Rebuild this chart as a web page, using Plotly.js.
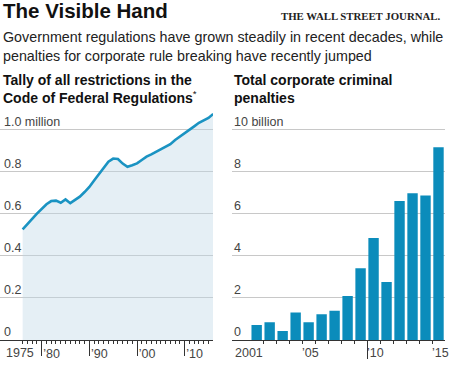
<!DOCTYPE html>
<html>
<head>
<meta charset="utf-8">
<script src="https://cdn.plot.ly/plotly-3.0.1.min.js"></script>
<style>html,body{margin:0;padding:0;background:#fff;}#chart{width:459px;height:368px;}</style>
</head>
<body>
<div id="chart"></div>
<script>
// ---- Data ----
const regYears = [1976,1977,1978,1979,1980,1981,1982,1983,1984,1985,1986,1987,1988,1989,1990,1991,1992,1993,1994,1995,1996,1997,1998,1999,2000,2001,2002,2003,2004,2005,2006,2007,2008,2009,2010,2011,2012,2013,2014,2015,2016];
const regValues = [0.526,0.553,0.575,0.600,0.625,0.645,0.660,0.662,0.652,0.668,0.650,0.665,0.681,0.703,0.727,0.758,0.789,0.820,0.847,0.862,0.860,0.838,0.823,0.830,0.839,0.855,0.871,0.882,0.895,0.906,0.918,0.930,0.950,0.966,0.982,0.995,1.015,1.032,1.042,1.055,1.074];
const regTickVals = [0,0.2,0.4,0.6,0.8,1.0];
const regTickText = ["0","0.2","0.4","0.6","0.8","1.0 million"];
const regDecades = [1980,1990,2000,2010];
const regDecadeText = ["\u201980","\u201990","\u201900","\u201910"];
const regFirstLabel = [1975];
const regFirstText = ["1975"];

const penYears = [2001,2002,2003,2004,2005,2006,2007,2008,2009,2010,2011,2012,2013,2014,2015];
const penValues = [0.71,0.84,0.43,1.31,0.84,1.22,1.39,2.09,3.41,4.85,2.76,6.60,6.97,6.87,9.16];
const penTickVals = [0,2,4,6,8,10];
const penTickText = ["0","2","4","6","8","10 billion"];
const penLabelYears = [2005,2010,2015];
const penLabelText = ["\u201905","\u201910","\u201915"];
const penFirstLabel = [2001];
const penFirstText = ["2001"];

// ---- derived tick positions ----
const regMinor = regYears.slice();
const penBounds = penYears.slice(0,-1).map(y => y + 0.5);
const penDecadeBound = [2009.5];

const W = 459, H = 368;
const px = v => v / W;
const py = v => 1 - v / H;

const FAM = "Liberation Sans, Arial, sans-serif";
const LABEL = {family: FAM, size: 12.5, color: "#444"};
const yDomain = [py(340), py(108.45)];
const xRangeL = [1971.25, 2015.95];
const xRangeR = [1999.1, 2015.5];

const traces = [
  {type: "scatter", mode: "lines", x: regYears, y: regValues, xaxis: "x", yaxis: "y",
   line: {color: "#1a93c2", width: 2.6}, fill: "tozeroy", fillcolor: "rgba(190,215,230,0.4)",
   hoverinfo: "skip"},
  {type: "bar", x: penYears, y: penValues, xaxis: "x2", yaxis: "y2",
   marker: {color: "#0b8cbb", line: {width: 0}}, hoverinfo: "skip"}
];

const yCommon = {
  tickmode: "array", ticks: "", showticklabels: false, showgrid: true, gridcolor: "#c8c8c8", gridwidth: 1,
  zeroline: false, showline: false, fixedrange: true
};

// y tick labels sit above their gridlines, left-aligned
const yLabelAnn = (vals, texts, yr, xPix) => vals.map((v, i) => ({
  text: texts[i], xref: "paper", yref: yr, x: px(xPix), y: v, yshift: 8,
  xanchor: "left", yanchor: "middle", showarrow: false, font: LABEL
}));
const xLabelAnn = (vals, texts, xr, shift) => vals.map((v, i) => ({
  text: texts[i], xref: xr, yref: "paper", x: v, xshift: shift, y: py(353),
  xanchor: "center", yanchor: "middle", showarrow: false, font: LABEL
}));

const layout = {
  width: W, height: H, margin: {l: 0, r: 0, t: 0, b: 0},
  paper_bgcolor: "#fff", plot_bgcolor: "#fff", showlegend: false, bargap: 0.2,
  xaxis: {domain: [0, px(213)], range: xRangeL, anchor: "y", showline: true, linecolor: "#333", linewidth: 1,
    showgrid: false, zeroline: false, tickmode: "array", tickvals: regDecades, ticktext: regDecadeText,
    ticks: "outside", ticklen: 15, tickcolor: "#333", tickwidth: 1,
    ticklabelshift: 10, ticklabelstandoff: -13, tickfont: LABEL,
    minor: {tickmode: "array", tickvals: regMinor, ticks: "outside", ticklen: 3, tickcolor: "#333", tickwidth: 1, showgrid: false}},
  yaxis: Object.assign({}, yCommon, {domain: yDomain, range: [0, 1.1], anchor: "x", tickvals: regTickVals}),

  xaxis2: {domain: [px(232), px(445)], range: xRangeR, anchor: "y2", showline: true, linecolor: "#333", linewidth: 1,
    showgrid: false, zeroline: false, tickmode: "array", tickvals: penDecadeBound, showticklabels: false,
    ticks: "outside", ticklen: 18, tickcolor: "#333", tickwidth: 1,
    minor: {tickmode: "array", tickvals: penBounds, ticks: "outside", ticklen: 3, tickcolor: "#333", tickwidth: 1, showgrid: false}},
  yaxis2: Object.assign({}, yCommon, {domain: yDomain, range: [0, 11], anchor: "x2", tickvals: penTickVals}),

  annotations: [
    {text: "<b>The Visible Hand</b>", xref: "paper", yref: "paper", x: px(1), y: py(10.5),
     xanchor: "left", yanchor: "middle", showarrow: false,
     font: {family: FAM, size: 20.5, color: "#111"}},
    {text: "<b>THE WALL STREET JOURNAL.</b>", xref: "paper", yref: "paper", x: px(279), y: py(15.5),
     xanchor: "left", yanchor: "middle", showarrow: false,
     font: {family: "Liberation Serif, serif", size: 10.8, color: "#222"}},
    {text: "Government regulations have grown steadily in recent decades, while<br>penalties for corporate rule breaking have recently jumped",
     xref: "paper", yref: "paper", x: px(0.5), y: py(46.5), xanchor: "left", yanchor: "middle", align: "left",
     showarrow: false, font: {family: FAM, size: 14.3, color: "#222"}},
    {text: "<b>Tally of all restrictions in the<br>Code of Federal Regulations</b><sup>*</sup>",
     xref: "paper", yref: "paper", x: px(0.5), y: py(89), xanchor: "left", yanchor: "middle", align: "left",
     showarrow: false, font: {family: FAM, size: 14, color: "#111"}},
    {text: "<b>Total corporate criminal<br>penalties</b>",
     xref: "paper", yref: "paper", x: px(231.5), y: py(89), xanchor: "left", yanchor: "middle", align: "left",
     showarrow: false, font: {family: FAM, size: 14, color: "#111"}}
  ]
  .concat(xLabelAnn(regFirstLabel, regFirstText, "x", 2.5))
  .concat(xLabelAnn(penFirstLabel, penFirstText, "x2", -7.5))
  .concat(xLabelAnn(penLabelYears, penLabelText, "x2", 1.5))
  .concat(yLabelAnn(regTickVals, regTickText, "y", 1.5))
  .concat(yLabelAnn(penTickVals, penTickText, "y2", 232))
};

Plotly.newPlot("chart", traces, layout, {displayModeBar: false, staticPlot: true});
</script>
</body>
</html>
